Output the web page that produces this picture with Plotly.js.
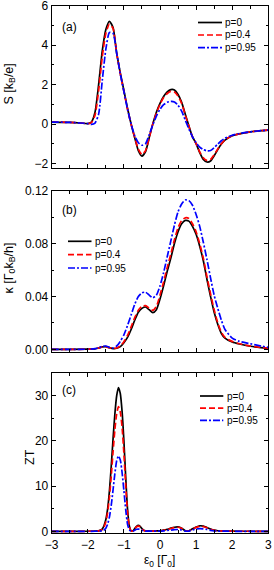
<!DOCTYPE html>
<html><head><meta charset="utf-8">
<script src="https://cdn.plot.ly/plotly-3.0.1.min.js"></script>
<style>html,body{margin:0;padding:0;background:#fff}#chart{width:274px;height:570px}</style>
</head><body><div id="chart"></div>
<script>
// ---------- data ----------
const seriesNames = ['p=0', 'p=0.4', 'p=0.95'];

// Panel (a): Seebeck S [kB/e]
const xS = [-3,-2.5,-2.2,-2.0,-1.9,-1.8,-1.7,-1.6,-1.5,-1.4,-1.3,-1.2,-1.1,-1.0,-0.9,-0.8,-0.7,-0.6,-0.5,-0.4,-0.3,-0.2,-0.1,0,0.1,0.2,0.3,0.4,0.5,0.6,0.7,0.8,0.9,1.0,1.1,1.2,1.3,1.4,1.5,1.6,1.7,1.8,2.0,2.2,2.5,2.8,3.0];
const S_p0   = [0.10,0.08,0.05,0.02,0.10,0.60,2.00,3.70,4.80,5.22,4.90,3.60,2.60,1.70,0.80,0.00,-0.70,-1.35,-1.63,-1.40,-0.70,0.00,0.60,1.05,1.40,1.63,1.75,1.73,1.50,1.10,0.50,-0.10,-0.65,-1.00,-1.45,-1.80,-1.93,-1.88,-1.62,-1.30,-1.02,-0.82,-0.60,-0.50,-0.40,-0.34,-0.31];
const S_p04  = [0.10,0.08,0.05,0.02,0.07,0.45,1.70,3.40,4.60,5.08,4.85,3.60,2.55,1.65,0.75,-0.02,-0.68,-1.28,-1.55,-1.35,-0.70,0.00,0.55,1.00,1.35,1.55,1.66,1.63,1.42,1.05,0.45,-0.12,-0.65,-1.00,-1.42,-1.72,-1.85,-1.80,-1.56,-1.27,-1.00,-0.81,-0.60,-0.50,-0.40,-0.34,-0.31];
const S_p095 = [0.10,0.08,0.05,0.02,-0.02,0.05,0.50,2.20,3.80,4.65,4.60,3.60,2.55,1.65,0.75,0.00,-0.60,-0.95,-1.08,-1.00,-0.55,-0.05,0.40,0.75,0.98,1.10,1.15,1.12,0.95,0.65,0.20,-0.25,-0.65,-0.95,-1.17,-1.30,-1.36,-1.35,-1.20,-1.02,-0.85,-0.72,-0.57,-0.48,-0.40,-0.34,-0.31];

// Panel (b): thermal conductance kappa [Gamma0 kB/h]
const xK = [-3,-2.5,-2.0,-1.8,-1.7,-1.6,-1.5,-1.4,-1.3,-1.2,-1.1,-1.0,-0.9,-0.8,-0.7,-0.6,-0.5,-0.4,-0.3,-0.2,-0.1,0,0.1,0.2,0.3,0.4,0.5,0.6,0.7,0.8,0.9,1.0,1.1,1.2,1.3,1.4,1.5,1.6,1.7,1.8,2.0,2.2,2.5,2.8,3.0];
const K_p0   = [0,0,0.0001,0.0004,0.001,0.0018,0.002,0.0012,0.0006,0.0008,0.002,0.005,0.009,0.015,0.022,0.028,0.031,0.032,0.030,0.0278,0.030,0.038,0.048,0.059,0.069,0.080,0.089,0.095,0.0975,0.097,0.093,0.087,0.078,0.067,0.053,0.040,0.028,0.019,0.012,0.0085,0.0055,0.004,0.0023,0.0013,0.0008];
const K_p04  = [0,0,0.0001,0.0004,0.001,0.0018,0.002,0.0012,0.0007,0.001,0.0025,0.0058,0.0105,0.017,0.024,0.0295,0.0325,0.033,0.0312,0.0295,0.0325,0.041,0.051,0.062,0.072,0.083,0.092,0.0975,0.0995,0.099,0.095,0.089,0.080,0.069,0.055,0.042,0.030,0.020,0.013,0.009,0.006,0.0042,0.0025,0.0014,0.0009];
const K_p095 = [0,0,0.0001,0.0005,0.0012,0.0022,0.0025,0.0015,0.001,0.0025,0.006,0.011,0.018,0.026,0.034,0.040,0.0428,0.0432,0.041,0.039,0.041,0.048,0.058,0.070,0.082,0.094,0.104,0.110,0.113,0.1125,0.109,0.102,0.093,0.081,0.068,0.054,0.041,0.031,0.022,0.015,0.0085,0.006,0.0042,0.0025,0.0015];

// Panel (c): figure of merit ZT
const xZ = [-3,-2.5,-2.0,-1.8,-1.7,-1.6,-1.55,-1.5,-1.45,-1.4,-1.35,-1.3,-1.25,-1.2,-1.15,-1.1,-1.05,-1.0,-0.95,-0.9,-0.85,-0.8,-0.75,-0.7,-0.65,-0.6,-0.55,-0.5,-0.45,-0.4,-0.3,-0.2,-0.1,0,0.1,0.2,0.3,0.4,0.5,0.6,0.7,0.75,0.8,0.9,1.0,1.1,1.2,1.3,1.4,1.5,1.6,1.8,2.0,2.5,3.0];
const Z_p0   = [0,0,0.01,0.04,0.1,0.5,1.3,2.6,5.0,9.0,14.5,20.5,26.0,30.0,31.8,30.5,26.5,20.0,12.0,5.0,1.2,0.1,0.1,0.6,1.1,1.3,1.1,0.6,0.25,0.1,0.05,0.05,0.08,0.1,0.25,0.45,0.7,0.9,0.97,0.7,0.1,0.02,0.1,0.55,0.95,1.22,1.15,0.85,0.5,0.25,0.12,0.05,0.03,0.01,0];
const Z_p04  = [0,0,0.01,0.03,0.08,0.4,1.0,2.1,4.2,7.6,12.3,17.6,22.5,26.0,27.6,26.4,23.0,17.2,10.2,4.2,1.0,0.1,0.1,0.55,1.0,1.15,1.0,0.55,0.2,0.08,0.04,0.04,0.07,0.09,0.22,0.4,0.63,0.82,0.9,0.65,0.1,0.02,0.1,0.5,0.88,1.1,1.05,0.78,0.45,0.22,0.1,0.04,0.02,0.01,0];
const Z_p095 = [0,0,0,0.01,0.02,0.1,0.3,0.7,1.6,3.2,5.8,9.2,12.8,15.6,16.7,15.8,13.0,9.0,4.8,1.6,0.3,0.05,0.05,0.25,0.45,0.5,0.45,0.25,0.1,0.05,0.03,0.03,0.04,0.05,0.1,0.18,0.28,0.36,0.4,0.3,0.05,0.01,0.05,0.28,0.5,0.6,0.55,0.4,0.22,0.1,0.05,0.02,0.01,0,0];

const xTickVals = [-3,-2,-1,0,1,2,3];
// ---------- styling ----------
const W = 274, H = 570;
const FONT = 'Liberation Sans, Arial, sans-serif';
const colors = ['#000000', '#ff0000', '#0000ff'];
const dashes = ['solid', '6px,3px', '7px,2px,2px,2px'];
const lw = 1.7;
const px = v => v / W, py = v => 1 - v / H;

const xDom = [px(51.7), px(268.3)];
const panels = [
  {x: xS, ys: [S_p0, S_p04, S_p095], top: 5.5, bot: 168.3, range: [-2.25, 6.02], dtick: 2, minor: 1},
  {x: xK, ys: [K_p0, K_p04, K_p095], top: 190.7, bot: 351.7, range: [-0.0018, 0.12], dtick: 0.04, minor: 0.02},
  {x: xZ, ys: [Z_p0, Z_p04, Z_p095], top: 372.7, bot: 533.3, range: [-0.44, 35.1], dtick: 10, minor: 5}
];

const traces = [];
const layout = {
  width: W, height: H, margin: {l: 0, r: 0, t: 0, b: 0},
  paper_bgcolor: '#fff', plot_bgcolor: '#fff', showlegend: false,
  font: {family: FONT, size: 12, color: '#000'},
  shapes: [], annotations: []
};

panels.forEach((p, i) => {
  const sfx = i === 0 ? '' : String(i + 1);
  p.ys.forEach((y, k) => {
    traces.push({x: p.x, y: y, type: 'scatter', mode: 'lines', name: seriesNames[k],
      xaxis: 'x' + sfx, yaxis: 'y' + sfx,
      line: {color: colors[k], width: lw, dash: dashes[k], shape: 'spline', smoothing: 0.6}});
  });
  layout['xaxis' + sfx] = {
    domain: xDom, anchor: 'y' + sfx, range: [-3, 3], tickvals: xTickVals,
    showticklabels: i === 2, ticks: 'inside', ticklen: 4, tickwidth: 1, tickcolor: '#000',
    minor: {dtick: 0.5, ticks: 'inside', ticklen: 3, tickcolor: '#000', tickwidth: 1},
    showline: true, linecolor: '#000', linewidth: 1, mirror: 'ticks',
    showgrid: false, zeroline: false, tickfont: {size: 12, family: FONT},
    ticklabeloverflow: 'allow'
  };
  layout['yaxis' + sfx] = {
    domain: [py(p.bot), py(p.top)], anchor: 'x' + sfx, range: p.range, dtick: p.dtick,
    tick0: 0, ticks: 'inside', ticklen: 4, tickwidth: 1, tickcolor: '#000',
    minor: {dtick: p.minor, ticks: 'inside', ticklen: 2, tickcolor: '#000', tickwidth: 1},
    showline: true, linecolor: '#000', linewidth: 1, mirror: 'ticks',
    showgrid: false, zeroline: false, tickfont: {size: 12, family: FONT},
    tickformat: i === 1 ? '.2f' : 'd', ticklabeloverflow: 'allow'
  };
});

// legends (drawn manually for compact spacing)
const legends = [
  {x0: 198, x1: 222, tx: 223, rows: [22.5, 35, 47.7]},
  {x0: 68, x1: 91.5, tx: 92.5, rows: [241.3, 254.7, 268]},
  {x0: 200, x1: 223.3, tx: 224.5, rows: [396, 408.2, 420.3]}
];
legends.forEach(L => {
  L.rows.forEach((r, k) => {
    layout.shapes.push({type: 'line', xref: 'paper', yref: 'paper',
      x0: px(L.x0), x1: px(L.x1), y0: py(r), y1: py(r),
      line: {color: colors[k], width: lw, dash: dashes[k]}});
    layout.annotations.push({xref: 'paper', yref: 'paper', x: px(L.tx), y: py(r),
      xanchor: 'left', yanchor: 'middle', showarrow: false, text: seriesNames[k],
      font: {size: 10, family: FONT, color: '#000'}});
  });
});

// panel labels
[['(a)', 69, 26.7], ['(b)', 69, 209.7], ['(c)', 69, 390.3]].forEach(a => {
  layout.annotations.push({xref: 'paper', yref: 'paper', x: px(a[1]), y: py(a[2]),
    xanchor: 'center', yanchor: 'middle', showarrow: false, text: a[0],
    font: {size: 12, family: FONT, color: '#000'}});
});

// axis titles
const yTitles = [
  ['S [k<sub>B</sub>/e]', 9.5, 84],
  ['κ [Γ<sub>0</sub>k<sub>B</sub>/h]', 9.5, 268],
  ['ZT', 30, 457]
];
yTitles.forEach(t => {
  layout.annotations.push({xref: 'paper', yref: 'paper', x: px(t[1]), y: py(t[2]),
    xanchor: 'center', yanchor: 'middle', showarrow: false, text: t[0], textangle: -90,
    font: {size: 12.5, family: FONT, color: '#000'}});
});
layout.annotations.push({xref: 'paper', yref: 'paper', x: px(159), y: py(561),
  xanchor: 'center', yanchor: 'middle', showarrow: false, text: 'ε<sub>0</sub> [Γ<sub>0</sub>]',
  font: {size: 12, family: FONT, color: '#000'}});

Plotly.newPlot('chart', traces, layout, {staticPlot: true, displayModeBar: false});
</script></body></html>
